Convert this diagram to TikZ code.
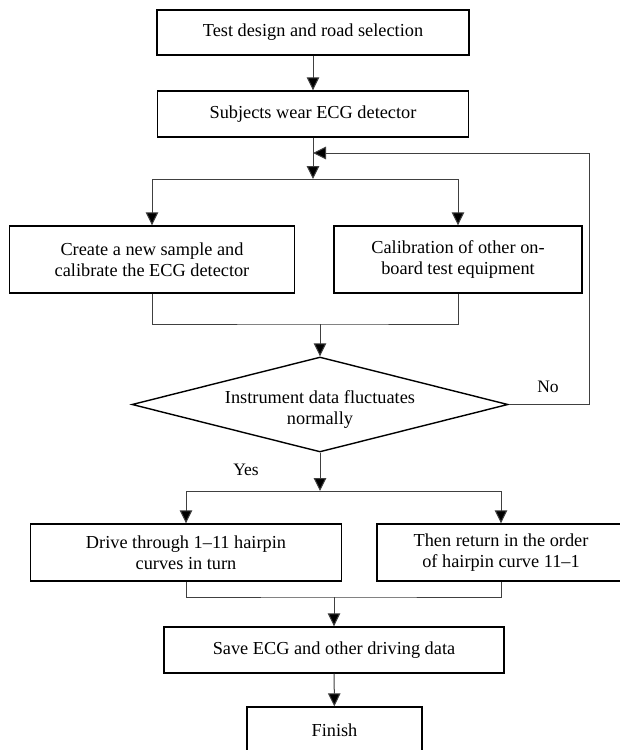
\documentclass[tikz,border=0pt]{standalone}
\usepackage{fontspec}
\setmainfont{Liberation Serif}
\usetikzlibrary{arrows.meta,shapes.geometric}
\begin{document}
\begin{tikzpicture}[x=1pt,y=-1pt,
  box/.style={draw=black,line width=1.4pt,inner sep=0pt,align=center,
    font=\fontsize{18.3}{21}\selectfont},
  dia/.style={draw=black,line width=1.4pt,inner sep=0pt,diamond,aspect=3.96,
    minimum width=376pt,minimum height=95pt},
  txt/.style={inner sep=0pt,align=center,font=\fontsize{18.3}{21}\selectfont},
  conn/.style={draw=black!75,line width=1pt},
  arr/.style={conn,-{Triangle[length=13pt,width=12.5pt,fill=black]}},
]
\useasboundingbox (0,0) rectangle (620,750);
\fill[white] (0,0) rectangle (620,750);

\node[box,minimum width=312pt,minimum height=45pt] (b1) at (313,32.5) {Test design and road selection};
\node[box,minimum width=311pt,minimum height=46pt] (b2) at (313,114) {Subjects wear ECG detector};
\node[box,minimum width=285pt,minimum height=67pt] (b3) at (152,259.5) {Create a new sample and\\calibrate the ECG detector};
\node[box,minimum width=248pt,minimum height=67pt] (b4) at (458,259.5) {Calibration of other on-\\board test equipment};
\node[dia] (d) at (320,404.5) {};
\node[txt] (dlabel) at (320,410) {Instrument data fluctuates\\normally};
\node[box,minimum width=311pt,minimum height=57pt] (b5) at (186,552.5) {Drive through 1--11 hairpin\\curves in turn};
\node[box,minimum width=248pt,minimum height=57pt] (b6) at (501,552.5) {Then return in the order\\of hairpin curve 11--1};
\node[box,minimum width=340pt,minimum height=46pt] (b7) at (334,650) {Save ECG and other driving data};
\node[box,minimum width=175pt,minimum height=46pt] (b8) at (334.5,730) {Finish};

\node[txt,font=\fontsize{17.5}{21}\selectfont] (no) at (548,387) {No};
\node[txt,font=\fontsize{17.5}{21}\selectfont] (yes) at (246,470) {Yes};

\coordinate (j1) at (313,179);
\coordinate (fb) at (313,153);
\coordinate (m1) at (320,324);
\coordinate (j2) at (320,491);
\coordinate (m2) at (334,597);
\coordinate (rr) at (589,404.5);

\draw[arr] (b1) -- (b2);
\draw[arr] (b2) -- (j1);
\draw[conn] (b3.north |- j1) -- (b4.north |- j1);
\draw[arr] (b3.north |- j1) -- (b3.north);
\draw[arr] (b4.north |- j1) -- (b4.north);
\draw[conn] (b3.south) |- (m1) -| (b4.south);
\draw[arr] (m1) -- (d.north);
\draw[arr] (d.east) -- (rr) |- (fb);
\draw[arr] (d.south) -- (j2);
\draw[conn] (b5.north |- j2) -- (b6.north |- j2);
\draw[arr] (b5.north |- j2) -- (b5.north);
\draw[arr] (b6.north |- j2) -- (b6.north);
\draw[conn] (b5.south) |- (m2) -| (b6.south);
\draw[arr] (m2) -- (b7.north);
\draw[arr] (b7) -- (b8);
\end{tikzpicture}
\end{document}
